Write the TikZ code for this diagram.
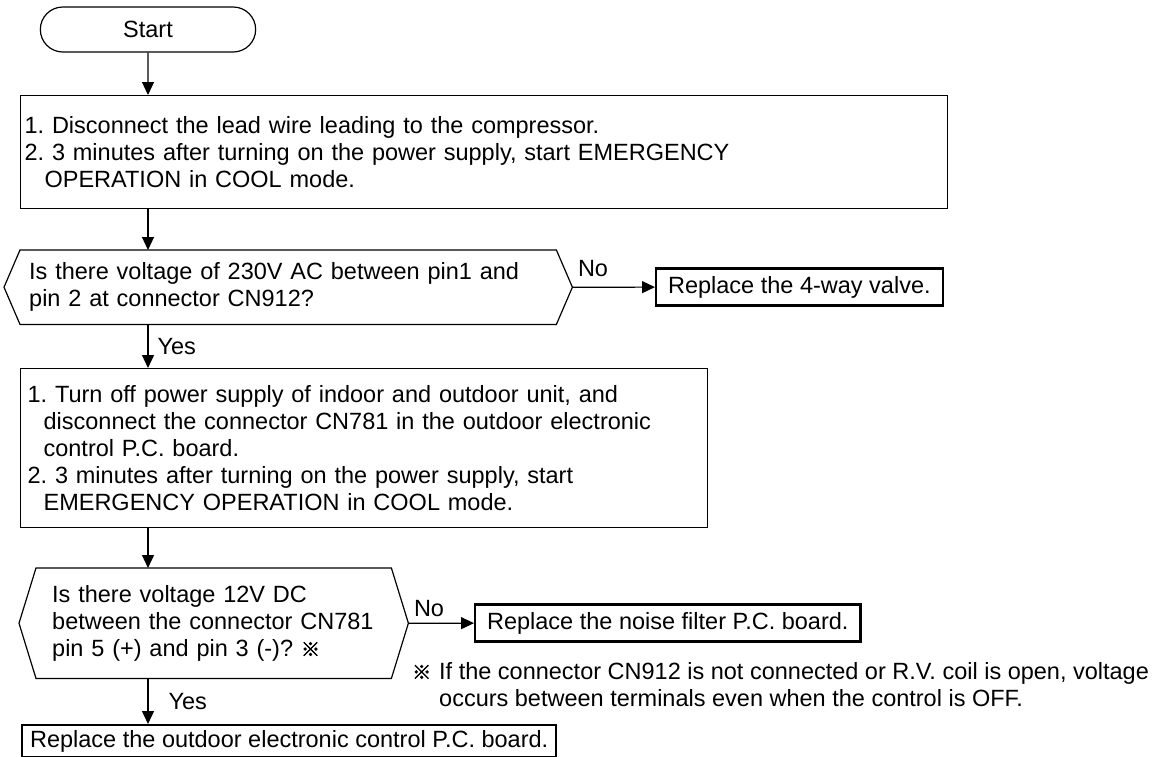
\documentclass[tikz,border=0pt]{standalone}
\usepackage{fontspec}
\setmainfont{Liberation Sans}
\newfontfamily\cjk[FakeBold=2.5]{Noto Sans CJK JP}
\usetikzlibrary{positioning,arrows.meta,shapes.misc,calc}
\frenchspacing

\begin{document}
\begin{tikzpicture}[
    x=1pt, y=-1pt,
    every node/.style={font=\fontsize{23.5}{27}\selectfont},
    terminal/.style={rounded rectangle, draw, line width=1.2pt, minimum width=222pt, minimum height=45pt},
    process/.style={rectangle, draw, line width=1.2pt, anchor=north west, align=left, inner xsep=4pt},
    decision/.style={rectangle, anchor=north west, align=left},
    result/.style={rectangle, draw, line width=2.2pt, anchor=west, inner xsep=12pt, minimum height=37pt},
    tag/.style={inner sep=0pt},
    line/.style={line width=1.2pt},
    arrow/.style={line width=1.2pt, -{Triangle[length=13pt, width=12pt]}}
]
\useasboundingbox (0,0) rectangle (1171,756);

% Ablauf - Start und erster Schritt
\node[terminal] (start) at (148,29.5) {Start};
\node[process, minimum width=927pt, minimum height=113pt, text width=919pt] (prep) at (20,95)
    {1. Disconnect the lead wire leading to the compressor.\\
     2. 3 minutes after turning on the power supply, start EMERGENCY\\
     \hspace*{20pt}OPERATION in COOL mode.};

% Erste Abfrage
\node[decision, minimum width=536pt, minimum height=74pt, text width=518pt, inner xsep=9pt] (q1) at (20,250)
    {Is there voltage of 230V AC between pin1 and\\pin 2 at connector CN912?};
\coordinate (q1r) at ([xshift=16pt]q1.east);
\coordinate (q1l) at ([xshift=-16pt]q1.west);
\draw[line] (q1.north west) -- (q1.north east) -- (q1r) -- (q1.south east) -- (q1.south west) -- (q1l) -- cycle;
\node[result] (valve) at (655,287) {Replace the 4-way valve.};

% Zweiter Schritt
\node[process, minimum width=687pt, minimum height=159pt, text width=673pt, inner xsep=7pt] (steps) at (20,368)
    {1. Turn off power supply of indoor and outdoor unit, and\\
     \hspace*{16pt}disconnect the connector CN781 in the outdoor electronic\\
     \hspace*{16pt}control P.C. board.\\
     2. 3 minutes after turning on the power supply, start\\
     \hspace*{16pt}EMERGENCY OPERATION in COOL mode.};

% Zweite Abfrage
\node[decision, minimum width=355pt, minimum height=110pt, text width=323pt, inner xsep=16pt] (q2) at (36,568)
    {Is there voltage 12V DC\\between the connector CN781\\pin 5 (+) and pin 3 (-)? {\cjk\fontsize{19}{19}\selectfont ※}};
\coordinate (q2r) at ([xshift=17pt]q2.east);
\coordinate (q2l) at ([xshift=-17pt]q2.west);
\draw[line] (q2.north west) -- (q2.north east) -- (q2r) -- (q2.south east) -- (q2.south west) -- (q2l) -- cycle;
\node[result] (filter) at (474,623) {Replace the noise filter P.C. board.};
\node[result, anchor=north west, minimum height=32pt, inner xsep=8pt] (fix) at (21,724)
    {Replace the outdoor electronic control P.C. board.};

% Hinweis
\node[tag, anchor=north west] (note) at (412,660)
    {\begin{tabular}{@{}l@{\hspace{8pt}}l@{}}
     {\cjk\fontsize{19}{19}\selectfont ※} & If the connector CN912 is not connected or R.V. coil is open, voltage\\
      & occurs between terminals even when the control is OFF.
     \end{tabular}};

% Verbindungen
\draw[arrow] (start) -- (start |- prep.north);
\draw[arrow] (start |- prep.south) -- (start |- q1.north);
\draw[arrow] (start |- q1.south) -- node[tag, right=9pt] {Yes} (start |- steps.north);
\draw[arrow] (q1r) -- (valve) node[tag, pos=0, anchor=south west, xshift=5pt, yshift=10pt] {No};
\draw[arrow] (start |- steps.south) -- (start |- q2.north);
\draw[arrow] (start |- q2.south) -- node[tag, right=20pt] {Yes} (start |- fix.north);
\draw[arrow] (q2r) -- (filter) node[tag, pos=0, anchor=south west, xshift=5pt, yshift=6pt] {No};

\end{tikzpicture}
\end{document}
